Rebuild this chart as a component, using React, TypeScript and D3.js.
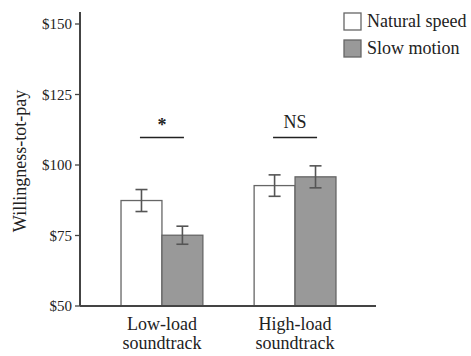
import * as d3 from "d3";

const categories = ["Low-load", "High-load"];
const series = ["Natural speed", "Slow motion"];
const naturalSpeed = [87.4, 92.7];
const slowMotion = [75.1, 95.8];
const naturalErr = [3.9, 3.8];
const slowErr = [3.2, 3.9];
const yTicks = [50, 75, 100, 125, 150];
const sigLabels = ["*", "NS"];

const W = 471;
const H = 356;
const FONT = '"Liberation Serif", "Times New Roman", Times, serif';
const INK = "#222";

export default function App() {
  const y = d3.scaleLinear().domain([50, 150]).range([306, 24]);
  const x = d3
    .scaleBand()
    .domain(categories)
    .range([121 - 0.2 * 133, 336 + 0.2 * 133])
    .paddingInner(0.385)
    .paddingOuter(0.2);
  const xs = d3.scaleBand().domain(series).range([0, x.bandwidth()]);
  const color = d3.scaleOrdinal<string>().domain(series).range(["#ffffff", "#999999"]);

  const values = [naturalSpeed, slowMotion];
  const errs = [naturalErr, slowErr];
  const axisX = 80;

  return (
    <svg
      width={W}
      height={H}
      style={{ position: "absolute", left: 0, top: 0, background: "#fff", fontFamily: FONT }}
    >
      {/* bars */}
      {categories.map((c, ci) =>
        series.map((s, si) => {
          const v = values[si][ci];
          const bx = x(c)! + xs(s)!;
          return (
            <rect
              key={c + s}
              x={bx}
              y={y(v)}
              width={xs.bandwidth()}
              height={y(50) - y(v)}
              fill={color(s)}
              stroke="#666"
              strokeWidth={1.3}
            />
          );
        })
      )}
      {/* error bars */}
      {categories.map((c, ci) =>
        series.map((s, si) => {
          const v = values[si][ci];
          const e = errs[si][ci];
          const cx = x(c)! + xs(s)! + xs.bandwidth() / 2;
          return (
            <g key={"e" + c + s} stroke="#555" strokeWidth={1.6}>
              <line x1={cx} x2={cx} y1={y(v + e)} y2={y(v - e)} />
              <line x1={cx - 6} x2={cx + 6} y1={y(v + e)} y2={y(v + e)} />
              <line x1={cx - 6} x2={cx + 6} y1={y(v - e)} y2={y(v - e)} />
            </g>
          );
        })
      )}
      {/* significance */}
      {categories.map((c, ci) => {
        const cx = x(c)! + x.bandwidth() / 2;
        return (
          <g key={"sig" + c}>
            <line x1={cx - 22} x2={cx + 22} y1={137.5} y2={137.5} stroke={INK} strokeWidth={1.5} />
            <text
              x={cx}
              y={ci === 0 ? 131 : 128}
              textAnchor="middle"
              fontSize={ci === 0 ? 18 : 18}
              fontWeight={ci === 0 ? "bold" : "normal"}
              fill={INK}
            >
              {sigLabels[ci]}
            </text>
          </g>
        );
      })}
      {/* axes */}
      <line x1={axisX} x2={axisX} y1={12} y2={y(50)} stroke="#444" strokeWidth={2} />
      <line x1={axisX} x2={376} y1={y(50)} y2={y(50)} stroke="#444" strokeWidth={2} />
      {yTicks.map((t) => (
        <g key={t}>
          <line x1={axisX - 5} x2={axisX} y1={y(t)} y2={y(t)} stroke="#444" strokeWidth={1.3} />
          <text x={axisX - 8} y={y(t)} dy="0.35em" textAnchor="end" fontSize={15} fill={INK}>
            ${t}
          </text>
        </g>
      ))}
      {categories.map((c) => {
        const cx = x(c)! + x.bandwidth() / 2;
        return (
          <text key={"xl" + c} x={cx} textAnchor="middle" fontSize={18} fill={INK}>
            <tspan x={cx} y={330}>{c}</tspan>
            <tspan x={cx} y={349}>soundtrack</tspan>
          </text>
        );
      })}
      <text
        transform={`translate(26,${161}) rotate(-90)`}
        textAnchor="middle"
        fontSize={18}
        fill={INK}
      >
        Willingness-tot-pay
      </text>
      {/* legend */}
      {series.map((s, i) => (
        <g key={"lg" + s} transform={`translate(344,${13 + i * 27})`}>
          <rect x={0} y={0} width={17} height={17} fill={color(s)} stroke="#666" strokeWidth={1.3} />
          <text x={23} y={14} fontSize={18} fill={INK}>
            {s}
          </text>
        </g>
      ))}
    </svg>
  );
}
